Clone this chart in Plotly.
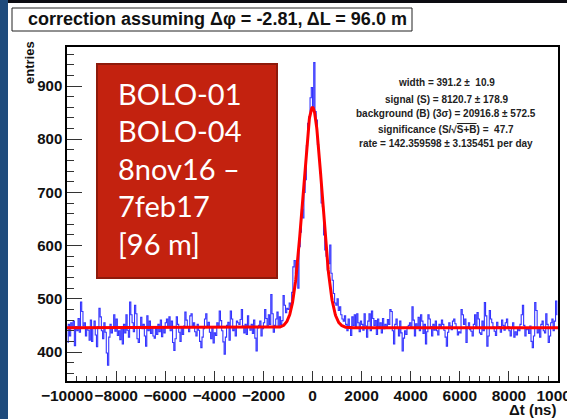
import numpy as np
import plotly.graph_objects as go

# ---- histogram of time differences: 400 bins of 50 ns on [-10000, 10000] ----
bin_lo = -10000.0
bin_width = 50.0

counts = [
    418, 452, 430, 455, 447, 458, 412, 448, 440, 463, 437, 494, 476, 449, 455, 430, 446, 441, 422, 460,
    420, 445, 458, 432, 410, 448, 482, 466, 440, 425, 455, 437, 398, 375, 428, 452, 436, 447, 470, 439,
    462, 431, 440, 423, 448, 415, 452, 436, 470, 441, 428, 494, 470, 455, 438, 488, 472, 425, 418, 447,
    465, 444, 452, 430, 411, 468, 440, 458, 435, 448, 430, 426, 444, 433, 452, 438, 460, 429, 447, 436,
    455, 462, 447, 466, 440, 458, 418, 403, 425, 466, 452, 437, 420, 445, 433, 449, 475, 460, 447, 438,
    468, 472, 446, 455, 438, 430, 452, 441, 420, 408, 428, 444, 462, 472, 450, 456, 437, 425, 447, 417,
    436, 431, 455, 448, 477, 459, 440, 419, 396, 428, 450, 456, 422, 477, 462, 440, 447, 430, 458, 455,
    452, 461, 480, 449, 436, 452, 433, 468, 446, 441, 452, 435, 460, 426, 402, 445, 450, 458, 430, 444,
    455, 480, 463, 446, 470, 452, 508, 472, 437, 450, 462, 475, 448, 466, 452, 459, 506, 488, 474, 482,
    480, 492, 486, 512, 560, 572, 548, 566, 520, 598, 625, 668, 652, 700, 724, 788, 830, 842, 878, 897,
    858, 944, 852, 836, 790, 762, 736, 680, 673, 620, 592, 580, 554, 566, 601, 548, 535, 510, 492, 488,
    500, 478, 485, 470, 462, 458, 468, 452, 440, 462, 448, 431, 466, 450, 470, 447, 472, 455, 438, 458,
    452, 441, 472, 449, 428, 458, 472, 440, 477, 463, 450, 459, 433, 462, 448, 455, 436, 463, 444, 452,
    447, 461, 452, 480, 476, 440, 415, 452, 462, 445, 430, 458, 436, 402, 426, 440, 433, 447, 450, 455,
    445, 485, 460, 430, 453, 446, 465, 440, 470, 458, 435, 452, 415, 438, 470, 462, 448, 430, 452, 441,
    458, 440, 432, 452, 447, 460, 452, 441, 428, 411, 437, 455, 449, 442, 458, 462, 453, 446, 432, 438,
    436, 480, 470, 452, 462, 418, 447, 455, 442, 439, 430, 452, 470, 447, 474, 462, 436, 433, 458, 440,
    493, 468, 411, 430, 478, 462, 455, 447, 439, 431, 456, 445, 448, 437, 460, 450, 441, 455, 462, 448,
    440, 430, 446, 455, 428, 438, 432, 445, 440, 452, 470, 488, 450, 430, 442, 446, 435, 449, 420, 408,
    430, 493, 478, 436, 446, 428, 452, 458, 440, 436, 472, 452, 418, 430, 455, 462, 440, 458, 496, 470,
]
bin_centers = [bin_lo + bin_width * (i + 0.5) for i in range(len(counts))]

# ---- fit results (gaussian peak on flat background) ----
fit_mean = 0.0
fit_width = 391.2
fit_width_err = 10.9
fit_signal = 8120.7
fit_signal_err = 178.9
fit_background = 20916.8          # counts within +-3 sigma
fit_background_err = 572.5
fit_significance = 47.7
fit_rate = 142.359598
fit_rate_err = 3.135451

bkg_level = fit_background / (6.0 * fit_width / bin_width)
peak_amp = fit_signal * bin_width / (fit_width * np.sqrt(2.0 * np.pi))
fit_x = np.linspace(-10000, 10000, 2001)
fit_y = bkg_level + peak_amp * np.exp(-0.5 * ((fit_x - fit_mean) / fit_width) ** 2)

title_text = "correction assuming \u0394\u03c6 = -2.81, \u0394L = 96.0 m"
box_lines = ["BOLO-01", "BOLO-04", "8nov16 \u2013", "7feb17", "[96 m]"]
stats_lines = [
    f"width = {fit_width} \u00b1  {fit_width_err}",
    f"signal (S) = {fit_signal} \u00b1 {fit_signal_err}",
    f"background (B) (3\u03c3) = {fit_background} \u00b1 {fit_background_err}",
    "significance (S/\u221a<span style='text-decoration:overline'>S+B</span>) =  " + f"{fit_significance}",
    f"rate = {fit_rate:.6f} \u00b1 {fit_rate_err:.6f} per day",
]

# ---- page geometry (pixels) ----
W, H = 567, 419
ML, MR, MT, MB = 67, 9, 47, 38
PW, PH = W - ML - MR, H - MT - MB


def px(x):
    return (x - ML) / PW


def py(y):
    return (H - MB - y) / PH


BOLD = dict(family="Liberation Sans, Arial, sans-serif", weight="bold")

fig = go.Figure()
fig.add_trace(go.Scatter(
    x=bin_centers, y=counts, mode="lines",
    line=dict(color="#3434ff", width=1.1, shape="hvh"),
    hoverinfo="skip", showlegend=False,
))
fig.add_trace(go.Scatter(
    x=fit_x, y=fit_y, mode="lines",
    line=dict(color="#ff0000", width=3),
    hoverinfo="skip", showlegend=False,
))

shapes = [
    # slide edge strips
    dict(type="rect", xref="paper", yref="paper", x0=px(0), x1=px(8), y0=py(H), y1=py(0),
         fillcolor="#1f4b7c", line=dict(width=0), layer="above"),
    dict(type="rect", xref="paper", yref="paper", x0=px(8), x1=px(W), y0=py(3), y1=py(0),
         fillcolor="#0c0c12", line=dict(width=0), layer="above"),
    # title box
    dict(type="rect", xref="paper", yref="paper", x0=px(12), x1=px(412), y0=py(31), y1=py(8),
         fillcolor="white", line=dict(color="#222", width=1), layer="above"),
    # red label box
    dict(type="rect", xref="paper", yref="paper", x0=px(97), x1=px(277), y0=py(278), y1=py(64),
         fillcolor="#c3220f", line=dict(color="#8e1a0b", width=2), layer="above"),
]

annotations = [
    dict(text=title_text, xref="paper", yref="paper", x=px(26), y=py(19.5),
         xanchor="left", yanchor="middle", showarrow=False,
         font=dict(size=18, color="#111", **BOLD)),
    dict(text="entries", xref="paper", yref="paper", x=px(29), y=py(63),
         xanchor="center", yanchor="middle", textangle=-90, showarrow=False,
         font=dict(size=13, color="#111", **BOLD)),
    dict(text="\u0394t (ns)", xref="paper", yref="paper", x=px(558), y=py(409),
         xanchor="right", yanchor="middle", showarrow=False,
         font=dict(size=15, color="#111", **BOLD)),
]

for k, line in enumerate(box_lines):
    annotations.append(dict(
        text=line, xref="paper", yref="paper", x=px(116), y=py(93 + 37.5 * k),
        xanchor="left", yanchor="middle", showarrow=False,
        font=dict(family="Lato, sans-serif", size=29, color="white"),
    ))

stats_y = [83, 99, 114, 129, 143.5]
for line, yy in zip(stats_lines, stats_y):
    annotations.append(dict(
        text=line, xref="paper", yref="paper", x=px(446), y=py(yy),
        xanchor="center", yanchor="middle", showarrow=False,
        font=dict(size=10, color="#222", **BOLD),
    ))

axis_common = dict(
    showgrid=False, zeroline=False, showline=True, linecolor="black", linewidth=1.5,
    mirror=True, ticks="inside", tickcolor="#333", tickwidth=1,
    tickformat="d", tickangle=0,
)

fig.update_layout(
    width=W, height=H,
    margin=dict(l=ML, r=MR, t=MT, b=MB, autoexpand=False),
    paper_bgcolor="white", plot_bgcolor="white",
    showlegend=False,
    xaxis=dict(
        range=[-10000, 10000], tick0=0, dtick=2000, ticklen=10,
        minor=dict(ticks="inside", dtick=400, ticklen=5, tickcolor="#333"),
        tickfont=dict(size=15.5, color="#111", **BOLD),
        ticklabeloverflow="allow", automargin=False,
        **axis_common,
    ),
    yaxis=dict(
        range=[345.5, 973.3], tick0=0, dtick=100, ticklen=15,
        minor=dict(ticks="inside", dtick=20, ticklen=7.5, tickcolor="#333"),
        tickfont=dict(size=15, color="#111", **BOLD),
        automargin=False,
        **axis_common,
    ),
    shapes=shapes,
    annotations=annotations,
)

fig.write_html("out.html")
